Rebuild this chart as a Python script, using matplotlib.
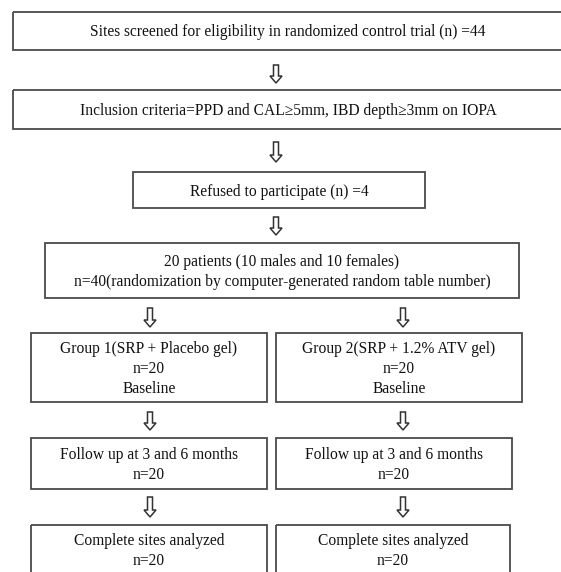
import matplotlib
matplotlib.use('Agg')
import matplotlib.pyplot as plt
import matplotlib.patches as mpatches

plt.rcParams['font.family'] = ['Liberation Serif', 'DejaVu Serif']

# box texts
top_steps = [
    'Sites screened for eligibility in randomized control trial (n) =44',
    'Inclusion criteria=PPD and CAL\u22655mm, IBD depth\u22653mm on IOPA',
    'Refused to participate (n) =4',
    '20 patients (10 males and 10 females)\nn=40(randomization by computer-generated random table number)',
]
group_1 = [
    'Group 1(SRP + Placebo gel)\nn=20\nBaseline',
    'Follow up at 3 and 6 months\nn=20',
    'Complete sites analyzed\nn=20',
]
group_2 = [
    'Group 2(SRP + 1.2% ATV gel)\nn=20\nBaseline',
    'Follow up at 3 and 6 months\nn=20',
    'Complete sites analyzed\nn=20',
]

# layout in pixels: (x0, x1, y0, y1)
top_boxes = [(13, 563, 12, 50), (13, 563, 90, 129), (133, 425, 172, 208), (45, 519, 243, 298)]
left_boxes = [(31, 267, 333, 402), (31, 267, 438, 489), (31, 267, 525, 580)]
right_boxes = [(276, 522, 333, 402), (276, 512, 438, 489), (276, 510, 525, 580)]
arrows = [(276, 65, 83), (276, 142, 162), (276, 217, 235),
          (150, 308, 327), (403, 308, 327),
          (150, 412, 430), (403, 412, 430),
          (150, 497, 517), (403, 497, 517)]

fig = plt.figure(figsize=(5.61, 5.72), dpi=100)
ax = fig.add_axes([0, 0, 1, 1])
ax.set_xlim(0, 561)
ax.set_ylim(572, 0)
ax.axis('off')

edge = '#4a4a4a'
fs = 11.2


def draw_box(box, text, valign='center'):
    x0, x1, y0, y1 = box
    ax.add_patch(mpatches.Rectangle((x0, y0), x1 - x0, y1 - y0, fill=False, ec=edge, lw=1.3))
    if valign == 'top':
        ax.text((x0 + x1) / 2, y0 + 8, text, ha='center', va='top', fontsize=fs,
                color='#111111', linespacing=1.35)
    else:
        ax.text((x0 + x1) / 2, (y0 + y1) / 2 + 1.5, text, ha='center', va='center', fontsize=fs,
                color='#111111', linespacing=1.35)


for box, text in zip(top_boxes, top_steps):
    draw_box(box, text)
for i, (box, text) in enumerate(zip(left_boxes, group_1)):
    draw_box(box, text, 'top' if i == 2 else 'center')
for i, (box, text) in enumerate(zip(right_boxes, group_2)):
    draw_box(box, text, 'top' if i == 2 else 'center')

for x, y0, y1 in arrows:
    ax.add_patch(mpatches.FancyArrow(x, y0, 0, y1 - y0, width=5, head_width=12,
                                     head_length=7, length_includes_head=True,
                                     fc='white', ec='#333333', lw=1.1))

fig.savefig('out.png', dpi=100)
